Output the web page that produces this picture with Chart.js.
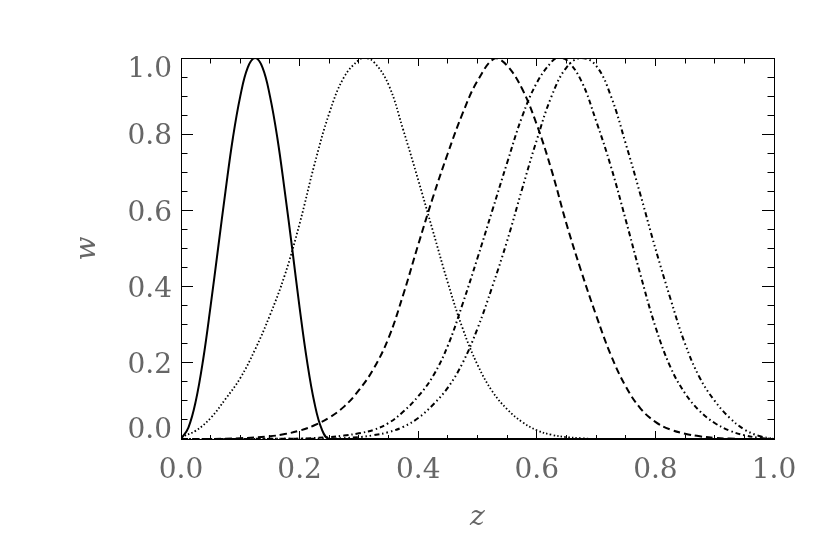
<!DOCTYPE html>
<html>
<head>
<meta charset="utf-8">
<script src="https://cdn.jsdelivr.net/npm/chart.js@4.4.1/dist/chart.umd.min.js"></script>
<style>
  html, body { margin: 0; padding: 0; background: #fff; }
</style>
</head>
<body>
<canvas id="grafico" width="830" height="554"></canvas>
<script>
// window curves w(z)
const zSolid = [0, 0.0125, 0.025, 0.0375, 0.05, 0.0625, 0.075, 0.0875, 0.1, 0.1125, 0.125,
  0.1375, 0.15, 0.1625, 0.175, 0.1875, 0.2, 0.2125, 0.225, 0.2375, 0.25, 0.3, 1.0];
const wSolid = [0, 0.03, 0.1, 0.21, 0.35, 0.5, 0.65, 0.79, 0.9, 0.975, 1.0,
  0.975, 0.9, 0.79, 0.65, 0.5, 0.345, 0.205, 0.095, 0.025, 0, 0, 0];

const zDotted = [0, 0.025, 0.05, 0.075, 0.1, 0.125, 0.15, 0.175, 0.2, 0.225, 0.25, 0.275, 0.3, 0.31,
  0.325, 0.35, 0.375, 0.4, 0.425, 0.45, 0.475, 0.5, 0.525, 0.55, 0.575, 0.6, 0.625, 0.65, 0.675, 0.7, 1.0];
const wDotted = [0.005, 0.022, 0.055, 0.105, 0.16, 0.235, 0.325, 0.43, 0.565, 0.72, 0.855, 0.95, 0.995, 1.0,
  0.99, 0.93, 0.81, 0.68, 0.545, 0.41, 0.29, 0.195, 0.125, 0.078, 0.045, 0.023, 0.011, 0.005, 0.002, 0, 0];

const zDashed = [0, 0.05, 0.1, 0.15, 0.175, 0.2, 0.225, 0.25, 0.275, 0.3, 0.325, 0.35, 0.375, 0.4, 0.425,
  0.45, 0.475, 0.5, 0.53, 0.55, 0.575, 0.6, 0.625, 0.65, 0.675, 0.7, 0.725, 0.75, 0.775, 0.8, 0.825,
  0.85, 0.875, 0.9, 0.925, 0.95, 1.0];
const wDashed = [0, 0, 0.002, 0.007, 0.013, 0.022, 0.036, 0.056, 0.085, 0.128, 0.185, 0.265, 0.38, 0.51, 0.635,
  0.75, 0.855, 0.94, 1.0, 0.98, 0.92, 0.825, 0.705, 0.565, 0.44, 0.325, 0.22, 0.138, 0.08, 0.045, 0.025,
  0.014, 0.007, 0.003, 0.001, 0, 0];

const zDashDot = [0, 0.2, 0.25, 0.275, 0.3, 0.325, 0.35, 0.375, 0.4, 0.425, 0.45, 0.475, 0.5, 0.525, 0.55,
  0.575, 0.6, 0.625, 0.635, 0.65, 0.675, 0.7, 0.725, 0.75, 0.775, 0.8, 0.825, 0.85, 0.875, 0.9, 0.925,
  0.95, 0.975, 1.0];
const wDashDot = [0, 0.001, 0.005, 0.009, 0.015, 0.024, 0.042, 0.072, 0.112, 0.165, 0.245, 0.355, 0.475, 0.6, 0.725,
  0.845, 0.935, 0.99, 1.0, 0.995, 0.94, 0.835, 0.715, 0.575, 0.43, 0.295, 0.19, 0.12, 0.073, 0.042, 0.022,
  0.01, 0.003, 0];

const zDash3Dot = [0, 0.25, 0.3, 0.325, 0.35, 0.375, 0.4, 0.425, 0.45, 0.475, 0.5, 0.525, 0.55, 0.575, 0.6,
  0.625, 0.65, 0.675, 0.7, 0.725, 0.75, 0.775, 0.8, 0.825, 0.85, 0.875, 0.9, 0.925, 0.95, 0.975, 1.0];
const wDash3Dot = [0, 0.001, 0.005, 0.01, 0.018, 0.032, 0.055, 0.09, 0.135, 0.2, 0.29, 0.4, 0.52, 0.655, 0.785,
  0.9, 0.975, 1.0, 0.98, 0.9, 0.775, 0.64, 0.5, 0.37, 0.25, 0.16, 0.1, 0.056, 0.025, 0.008, 0];

const xTickLabels = ['0.0', '0.2', '0.4', '0.6', '0.8', '1.0'];
const yTickLabels = ['0.0', '0.2', '0.4', '0.6', '0.8', '1.0'];
const yLabelAt = [0.029, 0.2, 0.4, 0.6, 0.8, 0.976];

Chart.defaults.font.family = '"DejaVu Serif", serif';
Chart.defaults.color = '#666';

function serie(zs, ws, dash, width) {
  return {
    data: zs.map((z, i) => ({ x: z, y: ws[i] })),
    borderColor: '#000',
    borderWidth: width,
    borderDash: dash,
    pointRadius: 0,
    fill: false,
    tension: 0.4,
    xAxisID: 'x',
    yAxisID: 'y'
  };
}

// small helper for the tick-only axes (ticks point inwards)
function tickAxis(axis, pos, step, len, weight, border) {
  return {
    type: 'linear', axis: axis, position: pos, min: 0, max: 1, weight: weight,
    afterFit: s => { if (axis === 'x') s.height = 0; else s.width = 0; },
    ticks: { stepSize: step, display: false },
    grid: { drawOnChartArea: false, tickLength: -len, tickColor: '#000', tickWidth: 1 },
    border: { display: border, color: '#000', width: 1 }
  };
}

const grafico = new Chart(document.getElementById('grafico').getContext('2d'), {
  type: 'line',
  data: {
    datasets: [
      serie(zSolid, wSolid, [], 2),
      serie(zDotted, wDotted, [1.5, 2.2], 1.8),
      serie(zDashed, wDashed, [7, 4], 2),
      serie(zDashDot, wDashDot, [5, 3, 1.5, 3], 2),
      serie(zDash3Dot, wDash3Dot, [5, 3, 1.5, 3, 1.5, 3, 1.5, 3], 2)
    ]
  },
  options: {
    responsive: false,
    animation: false,
    layout: { padding: { left: 0, top: 58, right: 56, bottom: 0 } },
    plugins: { legend: { display: false }, tooltip: { enabled: false } },
    scales: {
      x: {
        type: 'linear', axis: 'x', position: 'bottom', min: 0, max: 1, weight: 1,
        afterFit: s => { s.height = 115; },
        ticks: { stepSize: 0.2, padding: 23, font: { size: 28 }, maxRotation: 0, autoSkip: false,
          callback: (v, i) => xTickLabels[i] },
        grid: { drawOnChartArea: false, tickLength: -8, tickColor: '#000', tickWidth: 1 },
        border: { display: true, color: '#000', width: 1 },
        title: { display: true, text: 'z', font: { size: 28, style: 'italic' }, padding: { top: 0, bottom: 19 } }
      },
      xm: tickAxis('x', 'bottom', 0.05, 4, 0, false),
      xt: tickAxis('x', 'top', 0.2, 8, 0, true),
      xtm: tickAxis('x', 'top', 0.05, 5.5, 1, false),
      y: {
        type: 'linear', axis: 'y', position: 'left', min: 0, max: 1, weight: 1,
        afterFit: s => { s.width = 181; },
        afterBuildTicks: s => { s.ticks = yLabelAt.map(v => ({ value: v })); },
        ticks: { padding: 21, labelOffset: 3, font: { size: 28 }, autoSkip: false,
          callback: (v, i) => yTickLabels[i] },
        grid: { drawOnChartArea: false, tickLength: -12, tickWidth: 1,
          tickColor: c => (c.index === 0 || c.index === yLabelAt.length - 1) ? 'rgba(0,0,0,0)' : '#000' },
        border: { display: true, color: '#000', width: 1 },
        title: { display: true, text: 'w', font: { size: 28, style: 'italic' }, padding: { top: 71, bottom: 0 } }
      },
      ym: tickAxis('y', 'left', 0.05, 6.5, 0, false),
      yr: tickAxis('y', 'right', 0.2, 12, 0, true),
      yrm: tickAxis('y', 'right', 0.05, 6.5, 1, false)
    }
  }
});
</script>
</body>
</html>
